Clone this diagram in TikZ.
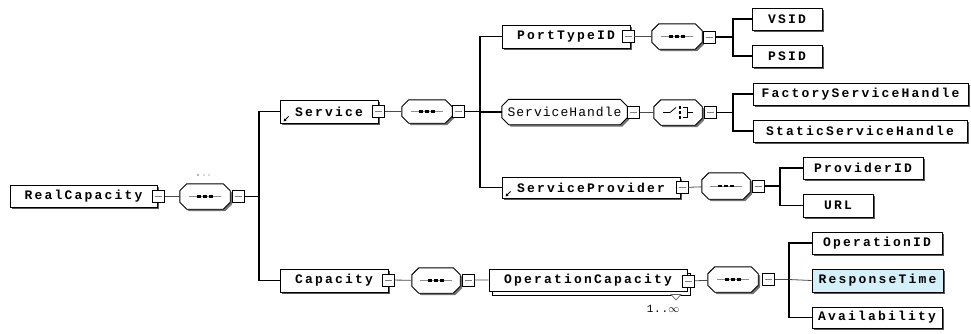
\documentclass[tikz,border=0pt]{standalone}
\usepackage{fontspec}
\newfontfamily\boxfont{Liberation Mono}[LetterSpace=17]
\newfontfamily\thinfont{Liberation Mono}[LetterSpace=8]
\usetikzlibrary{shadows,arrows.meta}
\definecolor{rtfill}{RGB}{212,241,251}
\pgfdeclarelayer{background}
\pgfsetlayers{background,main}

% chamfered outline around node #1, offset (#2,#3), chamfer #4, path options #5
\newcommand\octoline[5]{%
  \path[#5] ([shift={(#2+#4,#3)}]#1.north west) -- ([shift={(#2-#4,#3)}]#1.north east)
    -- ([shift={(#2,#3-#4)}]#1.north east) -- ([shift={(#2,#3+#4)}]#1.south east)
    -- ([shift={(#2-#4,#3)}]#1.south east) -- ([shift={(#2+#4,#3)}]#1.south west)
    -- ([shift={(#2,#3+#4)}]#1.south west) -- ([shift={(#2,#3-#4)}]#1.north west) -- cycle;}
% chamfered box with its shadow, behind the node
\newcommand\octo[1]{%
  \begin{pgfonlayer}{background}
    \octoline{#1}{2pt}{-2pt}{7pt}{fill=black!55}
    \octoline{#1}{0pt}{0pt}{7pt}{draw=black, line width=0.9pt, fill=white}
  \end{pgfonlayer}}
% sequence symbol
\newcommand\seqsym[1]{%
  \draw[black!45, line width=0.7pt] ([xshift=-16pt]#1.center) -- ([xshift=16pt]#1.center);
  \foreach \dx in {-6,0,6}
    \fill[black] ([xshift=\dx pt-2pt, yshift=-1.2pt]#1.center) rectangle ++(4pt,2.4pt);}
% choice symbol
\newcommand\choicesym[1]{%
  \draw[black, line width=0.8pt] ([xshift=-15pt]#1.center) -- ([xshift=-8pt]#1.center)
    -- ([xshift=-2pt, yshift=5pt]#1.center);
  \foreach \dy in {-5,0,5}
    \fill[black] ([xshift=1pt, yshift=\dy pt-1.2pt]#1.center) rectangle ++(2.4pt,2.4pt);
  \draw[black, line width=0.8pt] ([xshift=5pt, yshift=5pt]#1.center) -- ([xshift=9pt, yshift=5pt]#1.center)
    -- ([xshift=9pt, yshift=-5pt]#1.center) -- ([xshift=5pt, yshift=-5pt]#1.center);
  \draw[black, line width=0.8pt] ([xshift=9pt]#1.center) -- ([xshift=15pt]#1.center);}

\tikzset{
  boxbase/.style={draw=black, line width=0.9pt, fill=white, rectangle, inner sep=0pt,
    font={\boxfont\bfseries\fontsize{13pt}{13pt}\selectfont}},
  el/.style={boxbase, drop shadow={shadow xshift=2pt, shadow yshift=-2pt, fill=black!65, opacity=1}},
  multi/.style={boxbase, copy shadow={shadow xshift=3.5pt, shadow yshift=-3.5pt}},
  octo/.style={rectangle, inner sep=0pt},
  btn/.style={draw=black, line width=0.8pt, fill=white, rectangle, minimum width=12pt, minimum height=12pt,
    inner sep=0pt, path picture={
      \draw[black!50, line width=0.8pt] ([xshift=-3.5pt]path picture bounding box.center) -- ([xshift=3.5pt]path picture bounding box.center);
    }},
  link/.style={draw=black!70, line width=0.8pt},
  bus/.style={draw=black, line width=1.1pt},
  refmark/.style={line width=0.8pt, {Stealth[length=3pt,width=3.2pt]}-},
}

\begin{document}
\begin{tikzpicture}[x=1pt, y=-1pt]
\useasboundingbox (0,0) rectangle (971,333);

% ---------- root ----------
\node[el, minimum width=147, minimum height=22] (rc) at (83.5,196) {RealCapacity};
\node[btn] (rcb) at (158.5,196.5) {};
\node[octo, minimum width=50, minimum height=25] (s1) at (205,196.5) {};
\node[btn] (s1b) at (238.5,196.5) {};
\foreach \dx/\sh in {198/60,204/30,209/30}
  \fill[black!\sh] (\dx,175) circle (0.9pt);
\coordinate (j1) at (259,196.5);

% ---------- Service branch ----------
\node[el, minimum width=98, minimum height=23] (svc) at (329,111.5) {Service};
\draw[refmark] ([shift={(4pt,2pt)}]svc.south west) -- ([shift={(9pt,7pt)}]svc.south west);
\node[btn] (svcb) at (378.5,111.5) {};
\node[octo, minimum width=50, minimum height=23] (s2) at (427,111.5) {};
\node[btn] (s2b) at (458.5,111.5) {};
\coordinate (j2) at (480,111.5);

% PortTypeID
\node[el, minimum width=128, minimum height=23] (ptid) at (566,36.5) {PortTypeID};
\node[btn] (ptidb) at (628,36.5) {};
\node[octo, minimum width=50, minimum height=25] (s3) at (677,36.5) {};
\node[btn] (s3b) at (709.5,37) {};
\coordinate (j3) at (733,37);
\node[el, minimum width=70, minimum height=22] (vsid) at (787,19) {VSID};
\node[el, minimum width=70, minimum height=22] (psid) at (787,56) {PSID};

% ServiceHandle
\node[octo, minimum width=125, minimum height=25,
  font={\thinfont\fontsize{13pt}{13pt}\selectfont}] (sh) at (564.5,112) {ServiceHandle};
\node[btn] (shb) at (633.5,112.5) {};
\node[octo, minimum width=48, minimum height=25] (ch) at (678,112.5) {};
\node[btn] (chb) at (710,112.5) {};
\coordinate (j4) at (733,112.5);
\node[el, minimum width=215, minimum height=22] (fsh) at (860.5,94) {FactoryServiceHandle};
\node[el, minimum width=214, minimum height=22] (ssh) at (860,131) {StaticServiceHandle};

% ServiceProvider
\node[el, minimum width=178, minimum height=21] (sp) at (591,187.5) {ServiceProvider};
\draw[refmark] ([shift={(4pt,2pt)}]sp.south west) -- ([shift={(9pt,7pt)}]sp.south west);
\node[btn] (spb) at (682,187.5) {};
\node[octo, minimum width=48, minimum height=26] (s4) at (726,186) {};
\node[btn] (s4b) at (758.5,186) {};
\coordinate (j5) at (780,186);
\node[el, minimum width=120, minimum height=22] (pid) at (863,168) {ProviderID};
\node[el, minimum width=70, minimum height=23] (url) at (838,205.5) {URL};

% ---------- Capacity branch ----------
\node[el, minimum width=108, minimum height=23] (cap) at (334,280.5) {Capacity};
\node[btn] (capb) at (388.5,280) {};
\node[octo, minimum width=48, minimum height=25] (s5) at (436,280.5) {};
\node[btn] (s5b) at (468,280) {};
\node[multi, minimum width=198, minimum height=22] (opc) at (588,280.5) {OperationCapacity};
\node[btn] (opcb) at (688.5,281) {};
\draw[black!60, line width=0.7pt, fill=white] (671,294.5) -- (681,294.5) -- (676,300) -- cycle;
\node[font={\thinfont\fontsize{11pt}{11pt}\selectfont}] (occ) at (663,309) {1..$\infty$};
\node[octo, minimum width=50, minimum height=25] (s6) at (733,279.5) {};
\node[btn] (s6b) at (768.5,279.5) {};
\coordinate (j6) at (789,279.5);
\node[el, minimum width=130, minimum height=22] (oid) at (877,243) {OperationID};
\node[el, minimum width=131, minimum height=23, fill=rtfill] (rt) at (877.5,280.5) {ResponseTime};
\node[el, minimum width=130, minimum height=21] (av) at (877,317.5) {Availability};

% ---------- compositor outlines and symbols ----------
\foreach \n in {s1,s2,s3,s4,s5,s6,ch,sh} {\octo{\n}}
\foreach \n in {s1,s2,s3,s4,s5,s6} {\seqsym{\n}}
\choicesym{ch}

% ---------- connectors ----------
\draw[link] (rcb) -- (s1);
\draw[link] (svcb) -- (s2);
\draw[link] (ptidb) -- (s3);
\draw[link] (shb) -- (ch);
\draw[link] (spb) -- (s4);
\draw[link] (capb) -- (s5);
\draw[link] (s5b) -- (opc);
\draw[link] (opcb) -- (s6);

\draw[bus] (s1b) -- (j1);
\draw[bus] (j1) |- (svc.west);
\draw[bus] (j1) |- (cap.west);

\draw[bus] (s2b) -- (j2);
\draw[bus] (j2) |- (ptid.west);
\draw[bus] (j2) |- (sh.west);
\draw[bus] (j2) |- (sp.west);

\draw[bus] (s3b) -- (j3);
\draw[bus] (j3) |- (vsid.west);
\draw[bus] (j3) |- (psid.west);

\draw[bus] (chb) -- (j4);
\draw[bus] (j4) |- (fsh.west);
\draw[bus] (j4) |- (ssh.west);

\draw[bus] (s4b) -- (j5);
\draw[bus] (j5) |- (pid.west);
\draw[bus] (j5) |- (url.west);

\draw[link] (s6b) -- (j6);
\draw[bus] (j6) |- (oid.west);
\draw[link] (j6) -- (rt.west);
\draw[bus] (j6) |- (av.west);
\end{tikzpicture}
\end{document}
